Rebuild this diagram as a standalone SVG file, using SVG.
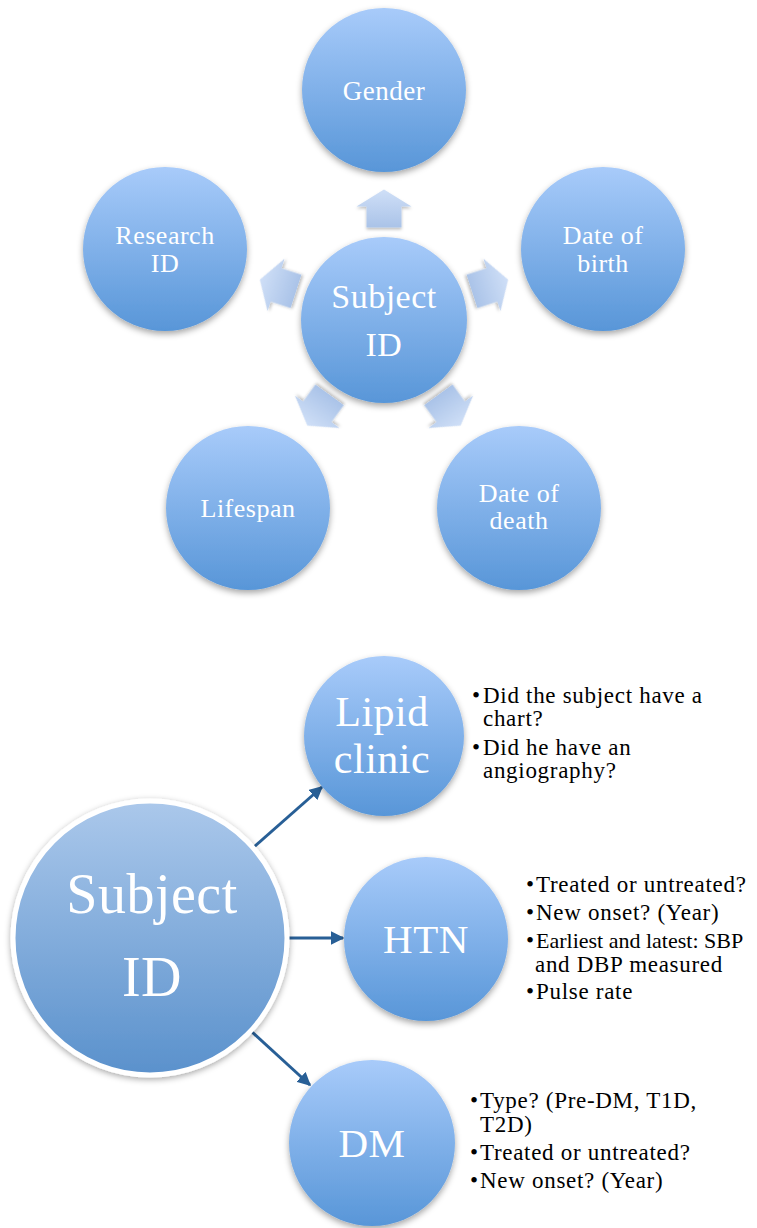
<svg xmlns="http://www.w3.org/2000/svg" width="757" height="1228" viewBox="0 0 757 1228">
<defs>
<linearGradient id="gCircle" x1="0" y1="0" x2="0" y2="1">
<stop offset="0" stop-color="#a8cbfa"/>
<stop offset="1" stop-color="#5896d8"/>
</linearGradient>
<linearGradient id="gBig" x1="0" y1="0" x2="0" y2="1">
<stop offset="0" stop-color="#abc8eb"/>
<stop offset="1" stop-color="#5a91cc"/>
</linearGradient>
<linearGradient id="gArrow" x1="0" y1="0" x2="0" y2="1">
<stop offset="0" stop-color="#cfdff7"/>
<stop offset="1" stop-color="#aac3e8"/>
</linearGradient>
<filter id="sh" x="-20%" y="-20%" width="140%" height="150%">
<feDropShadow dx="0" dy="3" stdDeviation="3" flood-color="#000" flood-opacity="0.35"/>
</filter>
<filter id="shBig" x="-20%" y="-20%" width="140%" height="140%">
<feDropShadow dx="0" dy="2" stdDeviation="3" flood-color="#000" flood-opacity="0.35"/>
</filter>
<filter id="shA" x="-30%" y="-30%" width="160%" height="170%">
<feDropShadow dx="0" dy="2" stdDeviation="1.5" flood-color="#000" flood-opacity="0.25"/>
</filter>
<marker id="ah" viewBox="0 0 10 10" refX="9" refY="5" markerWidth="4.5" markerHeight="4.5" orient="auto" markerUnits="strokeWidth">
<path d="M0,0 L10,5 L0,10 Z" fill="#285f96"/>
</marker>
<path id="arr" d="M0,-19 L27.5,-2 L17.5,-2 L17.5,19 L-17.5,19 L-17.5,-2 L-27.5,-2 Z"/>
</defs>
<style>
.c{fill:url(#gCircle);filter:url(#sh)}
.a{fill:url(#gArrow);filter:url(#shA)}
.t{font-family:"Liberation Serif","DejaVu Serif",serif;fill:#fff;text-anchor:middle;letter-spacing:0.5px}
.b{font-family:"Liberation Serif","DejaVu Serif",serif;fill:#000;font-size:23px;letter-spacing:0.7px}
.conn{stroke:#285f96;stroke-width:3;fill:none;marker-end:url(#ah)}
</style>
<rect width="757" height="1228" fill="#fff"/>

<g id="top-arrows">
<use href="#arr" class="a" transform="translate(384,208.5)"/>
<use href="#arr" class="a" transform="translate(384,320) rotate(72) translate(0,-111.5)"/>
<use href="#arr" class="a" transform="translate(384,320) rotate(144) translate(0,-111.5)"/>
<use href="#arr" class="a" transform="translate(384,320) rotate(216) translate(0,-111.5)"/>
<use href="#arr" class="a" transform="translate(384,320) rotate(288) translate(0,-111.5)"/>
</g>

<g id="gender"><circle class="c" cx="384" cy="90" r="82"/><text class="t" x="384" y="100" font-size="27">Gender</text></g>
<g id="subject-top"><circle class="c" cx="384" cy="320" r="83"/><text class="t" x="384" y="308" font-size="34">Subject</text><text class="t" x="384" y="356" font-size="34">ID</text></g>
<g id="research-id"><circle class="c" cx="165" cy="249" r="82"/><text class="t" x="165" y="244" font-size="26">Research</text><text class="t" x="165" y="272" font-size="26">ID</text></g>
<g id="date-of-birth"><circle class="c" cx="603" cy="249" r="82"/><text class="t" x="603" y="244" font-size="26">Date of</text><text class="t" x="603" y="272" font-size="26">birth</text></g>
<g id="lifespan"><circle class="c" cx="248" cy="508" r="82"/><text class="t" x="248" y="517" font-size="26">Lifespan</text></g>
<g id="date-of-death"><circle class="c" cx="519" cy="508" r="82"/><text class="t" x="519" y="502" font-size="26">Date of</text><text class="t" x="519" y="529" font-size="26">death</text></g>

<g id="connectors">
<line class="conn" x1="254" y1="847" x2="322" y2="787"/>
<line class="conn" x1="289" y1="938" x2="343" y2="938"/>
<line class="conn" x1="252" y1="1032" x2="310" y2="1085"/>
</g>

<g id="subject-big"><circle cx="150" cy="938" r="137" fill="url(#gBig)" stroke="#fff" stroke-width="5" filter="url(#shBig)"/><text class="t" x="152" y="913" font-size="56">Subject</text><text class="t" x="152" y="996" font-size="56">ID</text></g>

<g id="lipid-clinic"><circle class="c" cx="384" cy="736" r="80"/><text class="t" x="382" y="726" font-size="42">Lipid</text><text class="t" x="382" y="773" font-size="42">clinic</text></g>
<g id="htn"><circle class="c" cx="426" cy="939" r="82"/><text class="t" x="426" y="953" font-size="41">HTN</text></g>
<g id="dm"><circle class="c" cx="372" cy="1143" r="83"/><text class="t" x="372" y="1157" font-size="41">DM</text></g>

<g id="lipid-notes">
<text class="b" x="472" y="703">•</text><text class="b" x="483" y="703">Did the subject have a</text>
<text class="b" x="483" y="726">chart?</text>
<text class="b" x="472" y="755">•</text><text class="b" x="483" y="755">Did he have an</text>
<text class="b" x="483" y="778">angiography?</text>
</g>
<g id="htn-notes">
<text class="b" x="526" y="892">•</text><text class="b" x="536" y="892">Treated or untreated?</text>
<text class="b" x="526" y="920">•</text><text class="b" x="536" y="920">New onset? (Year)</text>
<text class="b" x="526" y="948">•</text><text class="b" x="536" y="948" style="font-size:22px;letter-spacing:0">Earliest and latest: SBP</text>
<text class="b" x="535" y="972">and DBP measured</text>
<text class="b" x="526" y="999">•</text><text class="b" x="536" y="999">Pulse rate</text>
</g>
<g id="dm-notes">
<text class="b" x="470" y="1108">•</text><text class="b" x="480" y="1108">Type? (Pre-DM, T1D,</text>
<text class="b" x="480" y="1132">T2D)</text>
<text class="b" x="470" y="1160">•</text><text class="b" x="480" y="1160">Treated or untreated?</text>
<text class="b" x="470" y="1188">•</text><text class="b" x="480" y="1188">New onset? (Year)</text>
</g>
</svg>
